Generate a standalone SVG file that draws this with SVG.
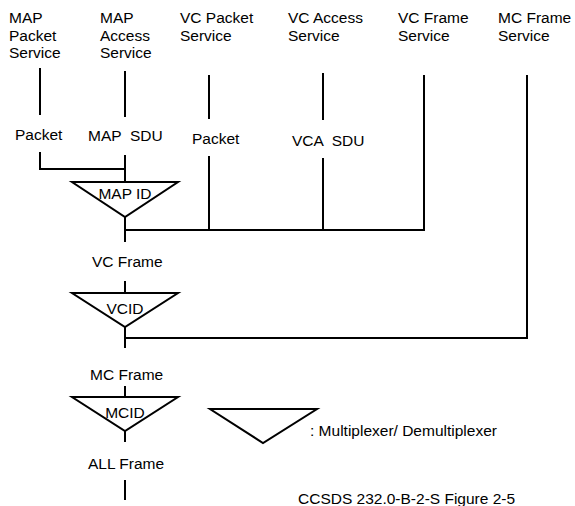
<svg xmlns="http://www.w3.org/2000/svg" width="575" height="506" viewBox="0 0 575 506">
<style>
text{font-family:"Liberation Sans",Arial,sans-serif;font-size:15.5px;fill:#000}
.l{stroke:#000;stroke-width:2;fill:none}
.t{stroke:#000;stroke-width:2;fill:#fff;stroke-linejoin:miter}
</style>
<rect width="575" height="506" fill="#fff"/>
<g id="svc-map-packet"><text x="9" y="23">MAP</text><text x="9" y="40.5">Packet</text><text x="9" y="58">Service</text></g>
<g id="svc-map-access"><text x="100" y="23">MAP</text><text x="100" y="40.5">Access</text><text x="100" y="58">Service</text></g>
<g id="svc-vc-packet"><text x="180" y="23">VC Packet</text><text x="180" y="40.5">Service</text></g>
<g id="svc-vc-access"><text x="288" y="23">VC Access</text><text x="288" y="40.5">Service</text></g>
<g id="svc-vc-frame"><text x="398" y="23">VC Frame</text><text x="398" y="40.5">Service</text></g>
<g id="svc-mc-frame"><text x="498" y="23">MC Frame</text><text x="498" y="40.5">Service</text></g>
<g id="connectors">
<path class="l" d="M40 68V115M125 71V117M209 75V119M323 73V120M424 75V231M527 75V339"/>
<path class="l" d="M40 152V169H125M125 155V182"/>
<path class="l" d="M209 156V230M323 158V230M125 217V242M125 230H425"/>
<path class="l" d="M125 281V293M125 327V348M125 338H528"/>
<path class="l" d="M125 386V397M125 431V442M125 480V500"/>
</g>
<g id="labels">
<text x="15" y="140">Packet</text>
<text x="88" y="141" xml:space="preserve">MAP  SDU</text>
<text x="192" y="144">Packet</text>
<text x="292" y="146" xml:space="preserve">VCA  SDU</text>
<text x="92" y="267">VC Frame</text>
<text x="90" y="380">MC Frame</text>
<text x="88" y="469">ALL Frame</text>
</g>
<g id="mux-map"><polygon class="t" points="72,182 178,182 125,217"/><text x="125" y="199" text-anchor="middle">MAP ID</text></g>
<g id="mux-vc"><polygon class="t" points="72,293 178,293 125,327"/><text x="125" y="314" text-anchor="middle">VCID</text></g>
<g id="mux-mc"><polygon class="t" points="72,397 178,397 125,431"/><text x="125" y="418" text-anchor="middle">MCID</text></g>
<g id="legend"><polygon class="t" points="210,409 317,409 263,443"/><text x="310" y="436">: Multiplexer/ Demultiplexer</text></g>
<text x="298" y="504">CCSDS 232.0-B-2-S Figure 2-5</text>
</svg>
